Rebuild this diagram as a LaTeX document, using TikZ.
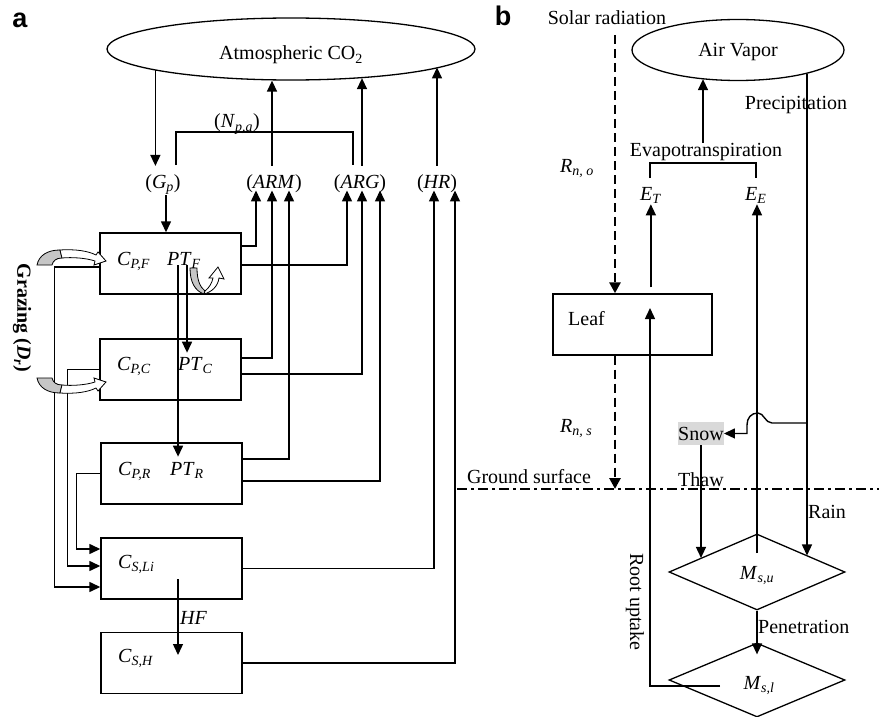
\documentclass[tikz,border=0pt]{standalone}
\usepackage{fontspec}
\setmainfont{Liberation Serif}
\newfontfamily\panelfont{Liberation Sans}
\usetikzlibrary{positioning,arrows.meta,shapes.geometric,calc}
\newcommand{\vsub}[2]{\textit{#1}\textsubscript{\textit{#2}}}
\tikzset{
  lbl/.style={inner sep=1pt, font=\fontsize{20}{24}\selectfont},
  panel/.style={inner sep=0pt, font=\panelfont\bfseries\fontsize{27}{30}\selectfont},
  box/.style={draw, rectangle, line width=1.4pt, minimum width=141pt, minimum height=61pt, inner sep=0pt},
  pool/.style={draw, ellipse, line width=1.3pt, inner sep=0pt},
  store/.style={draw, diamond, line width=1.3pt, minimum width=176pt, minimum height=76pt, inner sep=0pt},
  wire/.style={line width=1.4pt},
  flow/.style={wire, -{Triangle[length=11pt,width=10pt]}},
  rad/.style={line width=2.9pt, dash pattern=on 9pt off 5pt, -{Triangle[length=11pt,width=11pt]}},
  ground/.style={line width=2.6pt, dash pattern=on 10pt off 4pt on 3pt off 4pt},
  graytail/.style={draw, line width=0.8pt, fill=gray!45},
  whiteband/.style={draw, line width=0.8pt, fill=white},
}

\begin{document}
\begin{tikzpicture}[x=1pt, y=-1pt]
  \useasboundingbox (0,0) rectangle (879,717);
  % ---- panel a: carbon
  \node[panel] (laba) at (20,20) {a};
  \node[pool, minimum width=368pt, minimum height=62pt] (co2) at (291,49) {};
  \node[lbl, anchor=base] (co2t) at (291,60) {Atmospheric CO\textsubscript{2}};
  \node[lbl, anchor=base] (gp) at (163,188) {(\vsub{G}{p})};
  \node[lbl, anchor=base] (npa) at (237,128) {(\vsub{N}{p,a})};
  \node[lbl, anchor=base] (arm) at (274,188) {(\textit{ARM})};
  \node[lbl, anchor=base] (arg) at (360,188) {(\textit{ARG})};
  \node[lbl, anchor=base] (hr) at (437,188) {(\textit{HR})};

  \node[box] (cpf) at (170.5,263.5) {};
  \node[box] (cpc) at (170.5,369.5) {};
  \node[box] (cpr) at (171.5,473.5) {};
  \node[box] (csl) at (171.5,568.5) {};
  \node[box] (csh) at (171.5,663) {};
  \node[lbl, anchor=base west] (cpft) at (116,265) {\vsub{C}{P,F}};
  \node[lbl, anchor=base west] (ptf) at (166,265) {\vsub{PT}{F}};
  \node[lbl, anchor=base west] (cpct) at (116,370) {\vsub{C}{P,C}};
  \node[lbl, anchor=base west] (ptc) at (177,370) {\vsub{PT}{C}};
  \node[lbl, anchor=base west] (cprt) at (117,475) {\vsub{C}{P,R}};
  \node[lbl, anchor=base west] (ptr) at (169,475) {\vsub{PT}{R}};
  \node[lbl, anchor=base west] (cslt) at (117,568) {\vsub{C}{S,Li}};
  \node[lbl, anchor=base west] (csht) at (117,662) {\vsub{C}{S,H}};
  \node[lbl, anchor=base west] (hf) at (179,624) {\textit{HF}};
  \node[lbl, rotate=-90, font=\bfseries\fontsize{20}{24}\selectfont] (graz) at (22,318)
    {Grazing (\textit{D}\textsubscript{\textit{r}})};

  \foreach \n/\dx in {1/-18,2/-2,3/15} \coordinate (arm\n) at ($(arm.south)+(\dx,-3)$);
  \foreach \n/\dx in {1/-13,2/2,3/20} \coordinate (arg\n) at ($(arg.south)+(\dx,-3)$);
  \foreach \n/\dx in {1/-3,2/18} \coordinate (hr\n) at ($(hr.south)+(\dx,-3)$);

  \draw[flow] (co2.189) -- ($(co2.189 |- gp.north)+(0,-7)$);
  \draw[flow] ($(gp.south)+(3,0)$) -- ($(gp.south |- cpf.north)+(3,0)$);
  \draw[wire] (176,165) |- (353,132) -- (353,165);
  \draw[flow] ($(arm.north)+(-2,-7)$) -- ($(arm.north |- co2.south)+(-2,0)$);
  \draw[flow] ($(arg.north)+(2,-7)$) -- ($(arg.north |- co2.-22)+(2,0)$);
  \draw[flow] ($(hr.north)+(0,-7)$) -- (hr.north |- co2.-7);

  \draw[flow] ($(cpf.east)+(0,-17.5)$) -| (arm1);
  \draw[flow] ($(cpf.east)+(0,1.5)$) -| (arg1);
  \draw[flow] ($(cpc.east)+(0,-11.5)$) -| (arm2);
  \draw[flow] ($(cpc.east)+(0,4.5)$) -| (arg2);
  \draw[flow] ($(cpr.east)+(0,-14.5)$) -| (arm3);
  \draw[flow] ($(cpr.east)+(0,7.5)$) -| (arg3);
  \draw[flow] (csl.east) -| (hr1);
  \draw[flow] (csh.east) -| (hr2);

  \draw[flow] ($(ptf.south)+(-6,-4)$) -- ($(ptf.south |- ptr.north)+(-6,-4)$);
  \draw[flow] ($(ptf.south)+(3,-4)$) -- ($(ptf.south |- ptc.north)+(3,-3)$);
  \draw[flow] ($(csl.center)+(6.5,10.5)$) -- ($(csh.center)+(6.5,-8)$);

  \draw[flow] ($(cpf.west)+(0,3.5)$) -- ++(-45,0) |- ($(csl.west)+(0,18.5)$);
  \draw[flow] (cpc.west) -- ++(-32,0) |- ($(csl.west)+(0,-2.5)$);
  \draw[flow] (cpr.west) -- ++(-24,0) |- ($(csl.west)+(0,-19.5)$);

  % grazing arrows
  \filldraw[graytail] (37,265) .. controls (39,255) and (48,250) .. (60,250) -- (62,258)
    .. controls (56,258) and (53,261) .. (52,265) -- cycle;
  \filldraw[whiteband] (60,250) .. controls (76,249) and (88,251) .. (96,255) -- (98,252) -- (106,261)
    -- (94,265) -- (95,261) .. controls (86,258) and (72,257) .. (62,258) -- cycle;
  \begin{scope}[shift={(0,643)}, yscale=-1]
    \filldraw[graytail] (37,265) .. controls (39,255) and (48,250) .. (60,250) -- (62,258)
      .. controls (56,258) and (53,261) .. (52,265) -- cycle;
    \filldraw[whiteband] (60,250) .. controls (76,249) and (88,251) .. (96,255) -- (98,252) -- (106,261)
      -- (94,265) -- (95,261) .. controls (86,258) and (72,257) .. (62,258) -- cycle;
  \end{scope}
  \filldraw[graytail] (190,268) -- (197,268) .. controls (197,280) and (200,287) .. (205,291)
    -- (204,294) .. controls (195,291) and (190,282) .. (190,268) -- cycle;
  \filldraw[whiteband] (205,291) .. controls (209,288) and (212,283) .. (213,278) -- (209,278) -- (218,267)
    -- (224,279) -- (219,278) .. controls (218,286) and (212,292) .. (204,294) -- cycle;

  % ---- panel b: water
  \node[panel] (labb) at (503,16) {b};
  \node[lbl, anchor=base] (solar) at (607,25) {Solar radiation};
  \node[pool, minimum width=212pt, minimum height=61pt] (vap) at (738,50) {};
  \node[lbl, anchor=base] (vapt) at (738,57) {Air Vapor};
  \node[lbl, anchor=base] (prec) at (796,110) {Precipitation};
  \node[lbl, anchor=base] (evap) at (706,157) {Evapotranspiration};
  \node[lbl, anchor=base west] (rno) at (559,172) {\vsub{R}{n, o}};
  \node[lbl, anchor=base west] (et) at (639,200) {\vsub{E}{T}};
  \node[lbl, anchor=base west] (ee) at (744,200) {\vsub{E}{E}};
  \node[box, minimum width=159pt] (leaf) at (632.5,324.5) {};
  \node[lbl, anchor=base west] (leaft) at (567,325) {Leaf};
  \node[lbl, anchor=base west] (rns) at (559,432) {\vsub{R}{n, s}};
  \node[lbl, anchor=base west, fill=gray!30, inner xsep=0pt, inner ysep=4.8pt] (snow) at (678,440) {Snow};
  \node[lbl, anchor=base] (gs) at (529,483) {Ground surface};
  \node[lbl, anchor=base west] (thaw) at (677,486) {Thaw};
  \node[lbl, anchor=base west] (rain) at (807,518) {Rain};
  \node[store] (msu) at (757,572) {};
  \node[lbl, anchor=base] (msut) at (757,579) {\vsub{M}{s,u}};
  \node[lbl, anchor=base west] (pen) at (757,633) {Penetration};
  \node[store, minimum height=74pt] (msl) at (757,680) {};
  \node[lbl, anchor=base] (mslt) at (759,689) {\vsub{M}{s,l}};
  \node[lbl, rotate=-90] (root) at (635,602) {Root uptake};

  \coordinate (sun) at (615,35);
  \coordinate (gl) at (457,489);
  \coordinate (gr) at (879,489);
  \coordinate (pv) at (vap.-19);
  \coordinate (rt) at (720,686);

  \draw[ground] (gl) -- (gr);
  \draw[rad] (sun) -- (sun |- leaf.north);
  \draw[rad] (sun |- leaf.south) -- (sun |- gl);

  \draw[flow] ($(evap.north)+(-3,0)$) -- ($(evap.north |- vap.south)+(-3,-2)$);
  \draw[wire] (650,178) |- (756,163) -- (756,178);
  \draw[flow] ($(et.south |- leaf.north)+(0,-6)$) -- (et.south);
  \draw[flow] ($(msu.center)+(0,-19)$) -- (msu.center |- ee.south);
  \draw[flow] (pv) -- (pv |- msu.18);
  \draw[flow] (pv |- 0,423) -- (772,423) .. controls (765,423) and (764,413) .. (758,413)
    .. controls (751,413) and (747,418) .. (747,425) |- (snow.east);
  \draw[flow] (snow.south) -- (snow.south |- msu.166);
  \draw[flow] (msu.south) -- ($(msl.north)+(0,12)$);
  \draw[flow] (rt) -| ($(leaf.center)+(17.5,-16.5)$);
\end{tikzpicture}
\end{document}
